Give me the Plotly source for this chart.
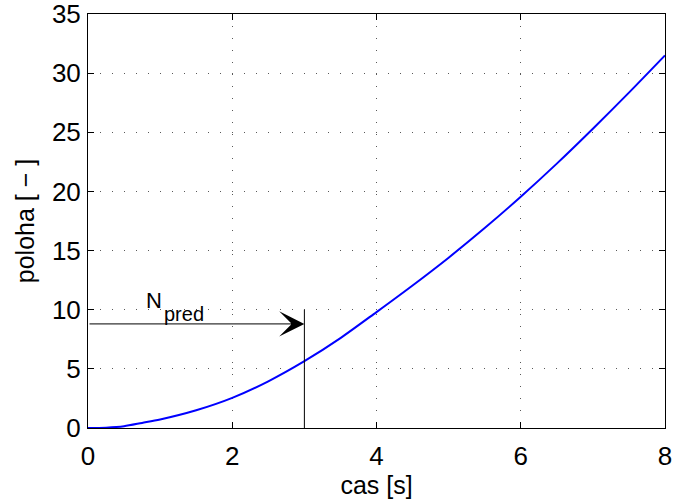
import plotly.graph_objects as go

# time samples [s] and position [-] of the trajectory
cas = [0, 0.25, 0.5, 0.75, 1, 1.5, 2, 2.5, 3, 3.5, 4, 4.5, 5, 5.5, 6, 6.5, 7, 7.5, 8]
poloha = [0, 0.03, 0.15, 0.43, 0.72, 1.5, 2.55, 3.95, 5.65, 7.6, 9.8, 12.05,
          14.4, 16.9, 19.55, 22.35, 25.3, 28.35, 31.5]

# prediction horizon marker
t_pred = 3
arrow_y = 8.8
marker_top = 10
label_main = "N"
label_sub = "pred"

x_ticks = [0, 2, 4, 6, 8]
y_ticks = [0, 5, 10, 15, 20, 25, 30, 35]

FONT = "Liberation Sans, Arial, Helvetica, sans-serif"

fig = go.Figure()
fig.add_trace(go.Scatter(
    x=cas, y=poloha, mode="lines",
    line=dict(color="#0000ff", width=2, shape="spline", smoothing=0.8),
    showlegend=False, hoverinfo="skip",
))

# vertical line at the end of the horizon
fig.add_shape(type="line", x0=t_pred, x1=t_pred, y0=0, y1=marker_top,
              xref="x", yref="y", line=dict(color="black", width=1))

# horizontal arrow from the origin to the horizon
fig.add_annotation(
    x=t_pred, y=arrow_y, ax=0, ay=arrow_y,
    xref="x", yref="y", axref="x", ayref="y",
    text="", showarrow=True, arrowhead=3, arrowsize=4.2, arrowwidth=1,
    arrowcolor="black", standoff=0, startstandoff=0,
)

fig.add_annotation(x=0.77, y=9.55, xref="x", yref="y", text=label_main,
                   showarrow=False, xanchor="left", yanchor="bottom",
                   font=dict(family=FONT, size=22, color="black"))
fig.add_annotation(x=1.03, y=8.5, xref="x", yref="y", text=label_sub,
                   showarrow=False, xanchor="left", yanchor="bottom",
                   font=dict(family=FONT, size=20, color="black"))

axis_common = dict(
    showline=True, linecolor="black", linewidth=1, mirror="allticks",
    ticks="inside", ticklen=6, tickcolor="black", tickwidth=1,
    showgrid=True, gridcolor="rgba(0,0,0,0.65)", gridwidth=1,
    griddash="1px,11px", zeroline=False, ticklabeloverflow="allow",
    tickfont=dict(family=FONT, size=26, color="black"),
)

fig.update_xaxes(range=[0, 8], tickvals=x_ticks, ticktext=[str(v) for v in x_ticks],
                 title=dict(text="cas [s]", standoff=3,
                            font=dict(family=FONT, size=25, color="black")),
                 ticklabelstandoff=5, **axis_common)
fig.update_yaxes(range=[0, 35], tickvals=y_ticks, ticktext=[str(v) for v in y_ticks],
                 title=dict(text="poloha [ \u2212 ]", standoff=10,
                            font=dict(family=FONT, size=25, color="black")),
                 ticklabelstandoff=1, **axis_common)

fig.update_layout(
    width=673, height=500,
    margin=dict(l=88, r=8, t=14, b=72, autoexpand=False),
    paper_bgcolor="white", plot_bgcolor="white",
    font=dict(family=FONT, color="black"),
)

fig.write_html("out.html")
